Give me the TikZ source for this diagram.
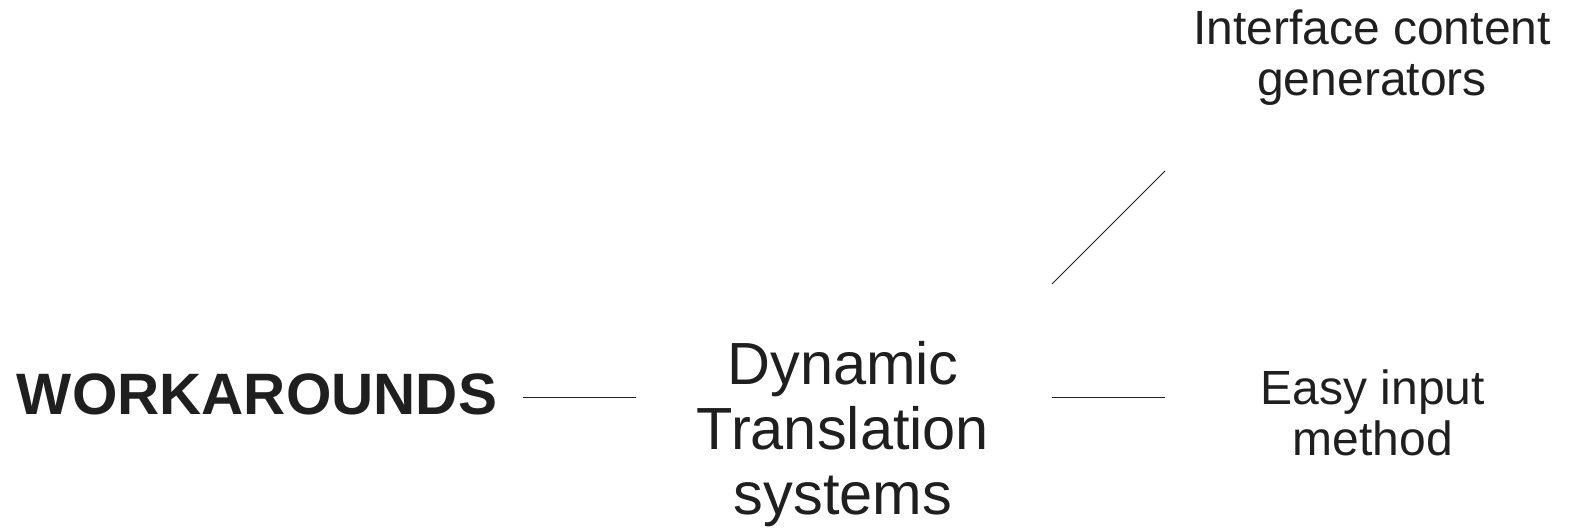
\documentclass[tikz,border=0pt]{standalone}
\usepackage{fontspec}
\setmainfont{Liberation Sans}
\definecolor{ink}{HTML}{1F1F1F}
\begin{document}
\begin{tikzpicture}[x=1pt,y=-1pt,
  label/.style={text=ink,inner sep=0pt,align=center},
  big/.style={label,font=\fontsize{59.5}{65}\selectfont},
  small/.style={label,font=\fontsize{48}{51}\selectfont},
  link/.style={draw=ink,line width=1pt}]
\useasboundingbox (0,0) rectangle (1570,531);
% nodes
\node[label,font=\fontsize{58.4}{65}\selectfont\bfseries] (wa) at (257,394) {WORKAROUNDS};
\node[big] (dts) at (843,434) {Dynamic\\Translation\\systems};
\node[small] (eim) at (1373,413) {Easy input\\method};
\node[small] (icg) at (1372,58) {Interface content\\generators};
% connector end points
\coordinate (wa-out) at (523,397);
\coordinate (dts-in) at (636,397);
\coordinate (dts-out) at (1052,397);
\coordinate (eim-in) at (1165,397);
\coordinate (dts-up) at (1052,284);
\coordinate (icg-in) at (1165,171);
% connectors
\draw[link] (wa-out) -- (dts-in);
\draw[link] (dts-out) -- (eim-in);
\draw[link] (dts-up) -- (icg-in);
\end{tikzpicture}
\end{document}
